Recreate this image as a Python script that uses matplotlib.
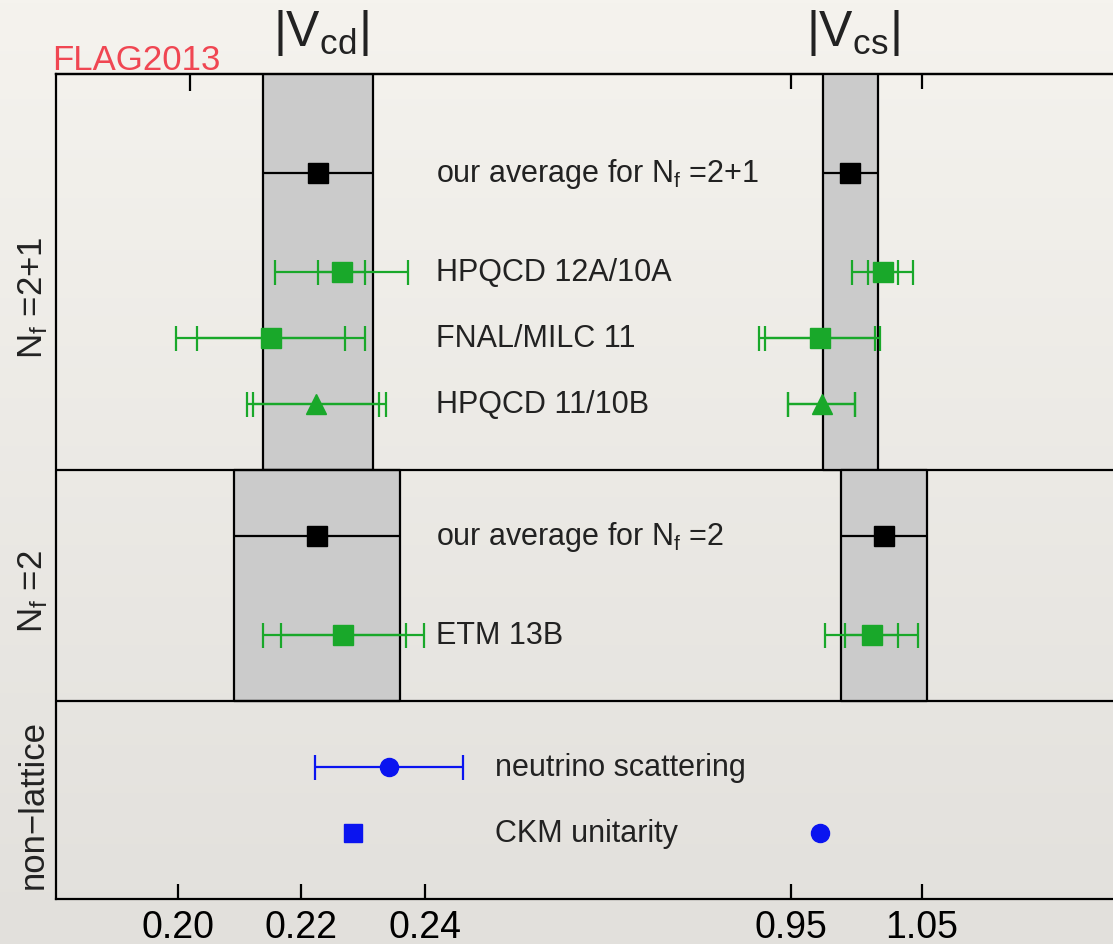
import matplotlib
matplotlib.use("Agg")
import matplotlib.pyplot as plt
from matplotlib.colors import LinearSegmentedColormap
import numpy as np

plt.rcParams['font.family'] = ['Liberation Sans', 'DejaVu Sans']
plt.rcParams['mathtext.fontset'] = 'custom'
plt.rcParams['mathtext.rm'] = 'Liberation Sans'
plt.rcParams['mathtext.it'] = 'Liberation Sans:italic'
plt.rcParams['mathtext.bf'] = 'Liberation Sans:bold'

# ---- data ----
# averages (centre, half width of band), rows
avg_rows = [11.0, 5.5]
avg_labels = [r'our average for N$_\mathrm{f}$ =2+1', r'our average for N$_\mathrm{f}$ =2']
avg_vcd = [0.2227, 0.2225]
avg_vcd_err = [0.0089, 0.0134]
avg_vcs = [0.9954, 1.0210]
avg_vcs_err = [0.0210, 0.0328]
band_lo = [6.5, 3.0]
band_hi = [12.5, 6.5]

# lattice results
lat_labels = ['HPQCD 12A/10A', 'FNAL/MILC 11', 'HPQCD 11/10B', 'ETM 13B']
lat_rows = [9.5, 8.5, 7.5, 4.0]
lat_markers = ['s', 's', '^', 's']
lat_vcd = [0.2265, 0.2150, 0.2224, 0.2268]
lat_vcd_stat = [0.0038, 0.0120, 0.0102, 0.0102]
lat_vcd_tot = [0.0108, 0.0153, 0.0113, 0.0130]
lat_vcs = [1.0202, 0.9721, 0.9735, 1.0115]
lat_vcs_stat = [0.0115, 0.0420, 0.0257, 0.0200]
lat_vcs_tot = [0.0233, 0.0462, 0.0257, 0.0356]

# non-lattice
nl_labels = ['neutrino scattering', 'CKM unitarity']
nl_rows = [2.0, 1.0]
nu_vcd, nu_vcd_err = 0.2342, 0.0120
ckm_vcd = 0.2284
ckm_vcs = 0.9721

panel_labels = [r'N$_\mathrm{f}$ =2+1', r'N$_\mathrm{f}$ =2', 'non\u2212lattice']
panel_rows = [9.12, 4.67, 1.45]
dividers = [6.5, 3.0]

vcd_ticks = [0.20, 0.22, 0.24]
vcd_top_ticks = [0.2019, 0.2235]
vcs_ticks = [0.95, 1.05]

green = '#19a82a'
blue = '#0a14f0'
gray_band = '#cbcbcb'

W, H = 1113, 945
fig = plt.figure(figsize=(W / 100, H / 100), dpi=100)

# background
bg = fig.add_axes([0, 0, 1, 1], zorder=-10)
grad = np.linspace(0, 1, 256).reshape(-1, 1)
bg.imshow(grad, aspect='auto', extent=[0, 1, 0, 1],
          cmap=LinearSegmentedColormap.from_list('bgc', ['#f5f3ee', '#e2e0dc']))
bg.axis('off')

# axes frame in pixels
x0, x1, y0, y1 = 56, 1130, 75, 900
rect = [x0 / W, 1 - y1 / H, (x1 - x0) / W, (y1 - y0) / H]
ax = fig.add_axes(rect)
ax2 = fig.add_axes(rect)
for a in (ax, ax2):
    a.set_facecolor('none')
    a.set_ylim(0, 12.5)
    a.set_yticks([])
ax.set_xlim(0.18024, 0.35418)
ax2.set_xlim(0.38893, 1.20878)
for s in ax2.spines.values():
    s.set_visible(False)
for s in ax.spines.values():
    s.set_linewidth(1.6)

# bands and averages
for i in range(2):
    ax.fill_betweenx([band_lo[i], band_hi[i]], avg_vcd[i] - avg_vcd_err[i], avg_vcd[i] + avg_vcd_err[i],
                     facecolor=gray_band, edgecolor='black', lw=1.6, zorder=1)
    ax2.fill_betweenx([band_lo[i], band_hi[i]], avg_vcs[i] - avg_vcs_err[i], avg_vcs[i] + avg_vcs_err[i],
                      facecolor=gray_band, edgecolor='black', lw=1.6, zorder=1)
    ax.errorbar(avg_vcd[i], avg_rows[i], xerr=avg_vcd_err[i], fmt='s', color='black',
                ms=15, lw=1.6, capsize=0, zorder=3)
    ax2.errorbar(avg_vcs[i], avg_rows[i], xerr=avg_vcs_err[i], fmt='s', color='black',
                 ms=15, lw=1.6, capsize=0, zorder=3)

for d in dividers:
    ax.axhline(d, color='black', lw=1.6, zorder=2)

# lattice results, stat and total errors
for i in range(len(lat_labels)):
    ms = 15 if lat_markers[i] == 's' else 14
    ax.errorbar(lat_vcd[i], lat_rows[i], xerr=lat_vcd_tot[i], fmt='none', ecolor=green,
                lw=1.6, capsize=9, capthick=1.6, zorder=3)
    ax.errorbar(lat_vcd[i], lat_rows[i], xerr=lat_vcd_stat[i], fmt=lat_markers[i], color=green,
                ms=ms, lw=1.6, capsize=9, capthick=1.6, zorder=4)
    ax2.errorbar(lat_vcs[i], lat_rows[i], xerr=lat_vcs_tot[i], fmt='none', ecolor=green,
                 lw=1.6, capsize=9, capthick=1.6, zorder=3)
    ax2.errorbar(lat_vcs[i], lat_rows[i], xerr=lat_vcs_stat[i], fmt=lat_markers[i], color=green,
                 ms=ms, lw=1.6, capsize=9, capthick=1.6, zorder=4)

# non-lattice
ax.errorbar(nu_vcd, nl_rows[0], xerr=nu_vcd_err, fmt='o', color=blue, ms=13,
            lw=1.6, capsize=9, capthick=1.6, zorder=4)
ax.plot(ckm_vcd, nl_rows[1], 's', color=blue, ms=13, zorder=4)
ax2.plot(ckm_vcs, nl_rows[1], 'o', color=blue, ms=13, zorder=4)

# row labels
txt_kw = dict(fontsize=22, color='#222222', va='center', ha='left')
for lab, r in zip(avg_labels, avg_rows):
    ax.text(0.3538, r, lab, transform=ax.get_yaxis_transform(), **txt_kw)
for lab, r in zip(lat_labels, lat_rows):
    ax.text(0.3538, r, lab, transform=ax.get_yaxis_transform(), **txt_kw)
for lab, r in zip(nl_labels, nl_rows):
    ax.text(0.4088, r, lab, transform=ax.get_yaxis_transform(), **txt_kw)

for lab, r in zip(panel_labels, panel_rows):
    ax.text(-0.0215, r, lab, transform=ax.get_yaxis_transform(), rotation=90,
            fontsize=25, color='#222222', va='center', ha='center')

# column titles
ax.text(0.22316, 1.021, r'|V$_\mathrm{cd}$|', transform=ax.get_xaxis_transform(),
        fontsize=36, color='#222222', ha='center', va='bottom')
ax2.text(0.9973, 1.021, r'|V$_\mathrm{cs}$|', transform=ax2.get_xaxis_transform(),
         fontsize=36, color='#222222', ha='center', va='bottom')

fig.text(52 / W, 1 - 70 / H, 'FLAG2013', color='#f04652', fontsize=25, va='baseline', ha='left')

# ticks
ax.set_xticks(vcd_ticks)
ax.set_xticklabels(['%.2f' % t for t in vcd_ticks])
ax.tick_params(axis='x', direction='in', length=11, width=1.6, labelsize=27, pad=7, top=False)
sec = ax.secondary_xaxis('top')
sec.set_xticks(vcd_top_ticks)
sec.tick_params(direction='in', length=12, width=1.6, labeltop=False)
sec.spines['top'].set_linewidth(1.6)

ax2.set_xticks(vcs_ticks)
ax2.set_xticklabels(['%.2f' % t for t in vcs_ticks])
ax2.tick_params(axis='x', direction='in', length=11, width=1.6, labelsize=27, pad=7,
                top=True, bottom=True)

fig.savefig('out.png', dpi=100)
